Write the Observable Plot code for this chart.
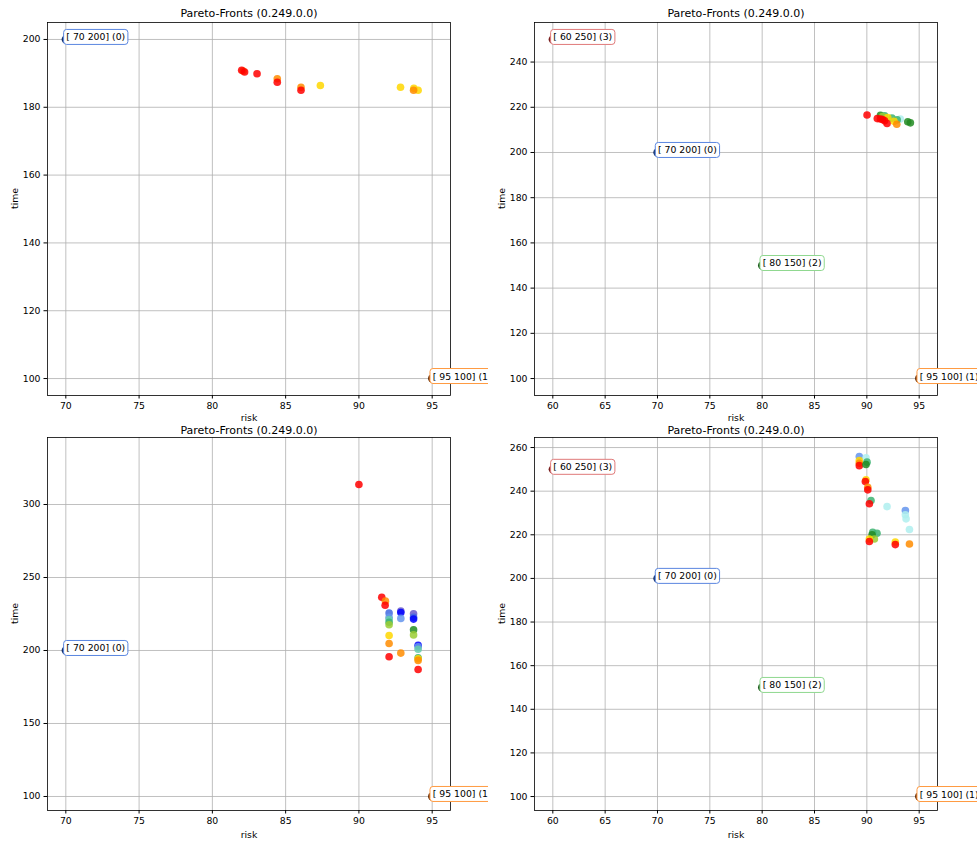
<!DOCTYPE html>
<html><head><meta charset="utf-8">
<script src="https://cdn.jsdelivr.net/npm/d3@7"></script>
<script src="https://cdn.jsdelivr.net/npm/@observablehq/plot@0.6"></script>
<style>
body{margin:0;background:#fff;font-family:"DejaVu Sans",sans-serif;}
#fig{position:relative;width:977px;height:841px;background:#fff;overflow:hidden;}
.panel{position:absolute;}
</style></head><body><div id="fig"></div>
<script>
const titleText = "Pareto-Fronts (0.249.0.0)";
const xLabel = "risk";
const yLabel = "time";

// reference (anchor) solutions
const anchorRisk = [70, 95, 80, 60];
const anchorTime = [200, 100, 150, 250];
const anchorLabel = ["[ 70 200] (0)", "[ 95 100] (1)", "[ 80 150] (2)", "[ 60 250] (3)"];

// generation groups (index into groupColors)
const groupColors = ["red","darkorange","gold","yellowgreen","forestgreen","mediumseagreen",
  "mediumaquamarine","paleturquoise","cornflowerblue","royalblue","blue","slateblue"];
const anchorDotColors = ["#13306b","#6b3410","#1d5a1d","#7a1f1f"];
const anchorBoxColors = ["#5a86e0","#ff9a40","#8fd88f","#e07a7a"];

// panel 1 (top-left)
const p1Risk = [82.1, 82.0, 82.2, 83.05, 84.43, 84.43, 86.05, 86.05, 87.37, 92.84, 93.75, 94.04, 93.73];
const p1Time = [190.7, 190.9, 190.4, 189.9, 188.4, 187.4, 185.9, 185.0, 186.4, 185.9, 185.6, 185.0, 185.0];
const p1Group = [1, 0, 0, 0, 1, 0, 1, 0, 2, 2, 2, 2, 1];

// panel 2 (top-right)
const p2Risk = [91.3, 91.7, 92.4, 93.2, 92.9, 93.91, 94.16, 91.5, 92.6, 92.0, 92.86, 90.02, 91.0, 91.3, 91.5, 91.7, 91.93];
const p2Time = [216.5, 216.2, 215.2, 214.8, 214.5, 213.6, 213.1, 215.9, 213.8, 215.5, 212.5, 216.6, 215.0, 214.8, 214.6, 214.0, 212.8];
const p2Group = [4, 5, 5, 7, 5, 4, 4, 3, 2, 2, 1, 0, 0, 0, 0, 0, 0];

// panel 3 (bottom-left)
const p3Risk = [90.0, 91.56, 91.81, 91.79, 92.06, 92.06, 92.06, 92.06, 92.06, 92.06, 92.06, 92.06,
  92.86, 92.86, 92.86, 92.86, 93.73, 93.73, 93.73, 93.73, 93.73, 94.04, 94.04, 94.04, 94.04, 94.04, 94.04, 94.04];
const p3Time = [313.7, 236.5, 233.8, 231.0, 225.6, 222.8, 221.2, 219.4, 217.6, 210.3, 204.8, 195.7,
  227.0, 226.0, 222.0, 198.2, 225.1, 222.8, 221.5, 214.2, 210.7, 203.6, 202.5, 200.9, 195.0, 194.3, 193.2, 187.0];
const p3Group = [0, 0, 1, 0, 9, 8, 6, 5, 3, 2, 1, 0,
  11, 10, 8, 1, 11, 9, 10, 4, 3, 10, 8, 6, 5, 2, 1, 0];

// panel 4 (bottom-right)
const p4Risk = [89.28, 89.92, 89.28, 89.28, 89.28, 90.02, 89.92, 89.92, 89.86, 90.09, 90.09, 90.4, 90.24,
  91.93, 93.68, 93.68, 93.75, 94.07, 90.56, 90.97, 90.5, 90.72, 90.24, 90.24, 92.72, 92.72, 94.07];
const p4Time = [255.9, 255.3, 254.0, 252.8, 251.7, 253.3, 252.2, 245.2, 244.4, 241.8, 240.6, 235.7, 234.2,
  232.9, 231.1, 229.2, 227.3, 222.4, 221.1, 220.7, 220.0, 218.1, 218.1, 216.9, 216.7, 215.5, 215.8];
const p4Group = [8, 7, 2, 1, 0, 5, 4, 2, 0, 1, 0, 5, 0,
  7, 8, 7, 7, 7, 5, 5, 4, 3, 2, 0, 2, 0, 1];

const xTicksA = [70, 75, 80, 85, 90, 95];
const xTicksB = [60, 65, 70, 75, 80, 85, 90, 95];
const yTicks1 = [100, 120, 140, 160, 180, 200];
const yTicks2 = [100, 120, 140, 160, 180, 200, 220, 240];
const yTicks3 = [100, 150, 200, 250, 300];
const yTicks4 = [100, 120, 140, 160, 180, 200, 220, 240, 260];

const fig = document.getElementById("fig");
const NS = "http://www.w3.org/2000/svg";

function panel(cfg) {
  const pts = cfg.risk.map((r, i) => ({risk: r, time: cfg.time[i], group: cfg.group[i]}));
  const anc = cfg.anchors.map(i => ({risk: anchorRisk[i], time: anchorTime[i], label: anchorLabel[i], id: i}));
  const gridStyle = {stroke: "#b0b0b0", strokeOpacity: 1, strokeWidth: 0.8};
  const svg = Plot.plot({
    width: cfg.width, height: cfg.height,
    marginLeft: cfg.m[0], marginRight: cfg.m[1], marginTop: cfg.m[2], marginBottom: cfg.m[3],
    style: {fontFamily: "DejaVu Sans", fontSize: "9.3px", color: "black", background: "transparent", overflow: "hidden"},
    x: {domain: cfg.xDomain},
    y: {domain: cfg.yDomain},
    color: {type: "identity"},
    marks: [
      Plot.gridX(cfg.xTicks, gridStyle),
      Plot.gridY(cfg.yTicks, gridStyle),
      Plot.axisX(cfg.xTicks, {tickSize: 3.5, tickPadding: 3.5, label: null, fontSize: 9.3}),
      Plot.axisY(cfg.yTicks, {tickSize: 3.5, tickPadding: 3.5, label: null, fontSize: 9.3}),
      Plot.frame({stroke: "black", strokeWidth: 0.8}),
      Plot.dot(pts, {x: "risk", y: "time", r: 3.8, fill: d => groupColors[d.group], fillOpacity: 0.85}),
      Plot.dot(anc, {x: "risk", y: "time", r: 4.2, fill: d => anchorDotColors[d.id]}),
      Plot.text(anc, {x: "risk", y: "time", text: "label", textAnchor: "start", lineAnchor: "middle", dx: 0.5, dy: -2, fontSize: 9.3, fill: "black"}),
      Plot.text([titleText], {text: d => d, frameAnchor: "top", lineAnchor: "middle", dy: cfg.titleDy, fontSize: 11}),
      Plot.text([xLabel], {text: d => d, frameAnchor: "bottom", lineAnchor: "middle", dy: cfg.xLabelDy, fontSize: 9.3}),
      Plot.text([yLabel], {text: d => d, frameAnchor: "left", lineAnchor: "middle", dx: -32, rotate: -90, fontSize: 9.3})
    ]
  });
  const div = document.createElement("div");
  div.className = "panel";
  div.style.left = cfg.left + "px";
  div.style.top = cfg.top + "px";
  div.appendChild(svg);
  fig.appendChild(div);
  // label boxes behind the annotation texts (first plain text mark)
  const g = svg.querySelector('g[aria-label="text"]');
  if (g) {
    g.querySelectorAll("text").forEach((t, i) => {
      const b = t.getBBox();
      const r = document.createElementNS(NS, "rect");
      r.setAttribute("x", b.x - 2.7);
      r.setAttribute("y", b.y - 2);
      r.setAttribute("width", b.width + 5.4);
      r.setAttribute("height", b.height + 4);
      r.setAttribute("rx", 3);
      r.setAttribute("fill", "white");
      r.setAttribute("stroke", anchorBoxColors[anc[i].id]);
      r.setAttribute("stroke-width", 1);
      const tr = t.getAttribute("transform");
      if (tr) r.setAttribute("transform", tr);
      g.insertBefore(r, t);
    });
  }
}

// bottom panels first so the top panels' x-axis labels sit above them
panel({left: 0, top: 420, width: 488, height: 421, m: [47, 38, 17, 31],
  xDomain: [68.75, 96.25], yDomain: [90.4, 345.9], xTicks: xTicksA, yTicks: yTicks3,
  risk: p3Risk, time: p3Time, group: p3Group, anchors: [0, 1], titleDy: -7, xLabelDy: 25});
panel({left: 488, top: 420, width: 489, height: 421, m: [46, 40, 17, 31],
  xDomain: [58.25, 96.75], yDomain: [93.6, 264.6], xTicks: xTicksB, yTicks: yTicks4,
  risk: p4Risk, time: p4Time, group: p4Group, anchors: [3, 0, 2, 1], titleDy: -7, xLabelDy: 25});
panel({left: 0, top: 0, width: 488, height: 428, m: [47, 38, 22, 33],
  xDomain: [68.75, 96.25], yDomain: [95, 205], xTicks: xTicksA, yTicks: yTicks1,
  risk: p1Risk, time: p1Time, group: p1Group, anchors: [0, 1], titleDy: -9, xLabelDy: 23});
panel({left: 488, top: 0, width: 489, height: 428, m: [46, 40, 22, 33],
  xDomain: [58.25, 96.75], yDomain: [92.5, 257.5], xTicks: xTicksB, yTicks: yTicks2,
  risk: p2Risk, time: p2Time, group: p2Group, anchors: [3, 0, 2, 1], titleDy: -9, xLabelDy: 23});
</script>
</body></html>
